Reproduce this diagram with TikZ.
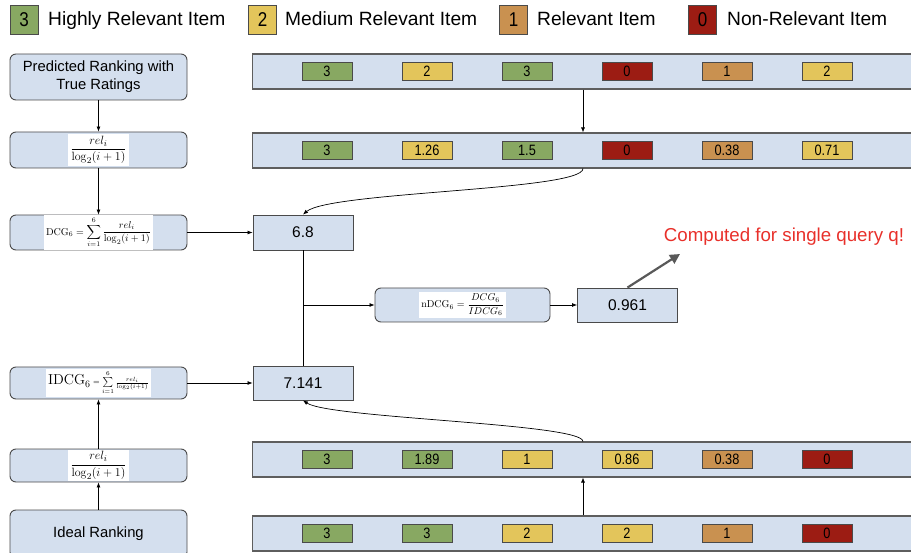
\documentclass[tikz,border=0pt]{standalone}
\usepackage[no-math]{fontspec}
\setmainfont{Liberation Sans}
\newfontfamily\narrowfont[FakeStretch=0.85]{Liberation Sans}
\usetikzlibrary{arrows.meta,calc}

\definecolor{boxblue}{HTML}{D4DFEE}
\definecolor{edge}{HTML}{4A4A4A}
\definecolor{baredge}{HTML}{5E5E5E}
\definecolor{cgreen}{HTML}{88A862}
\definecolor{cyellow}{HTML}{E3C55B}
\definecolor{corange}{HTML}{C99150}
\definecolor{cred}{HTML}{9C1C13}
\definecolor{notered}{HTML}{E8302A}
\definecolor{pointer}{HTML}{595959}

\newcommand\cellfnt{\narrowfont\fontsize{15}{15}\selectfont}
\newcommand\legfnt{\fontsize{19.2}{22}\selectfont}
\newcommand\stagefnt{\fontsize{14.8}{18}\selectfont}
\setlength{\fboxsep}{2pt}

\tikzset{
  stage/.style={draw=edge, fill=boxblue, rounded corners=6pt, line width=0.9pt,
    minimum width=177pt, inner sep=0pt, align=center, font=\stagefnt},
  bar/.style={draw=baredge, fill=boxblue, line width=1.1pt, minimum width=700pt,
    minimum height=35pt, anchor=west},
  valbox/.style={draw=edge, fill=boxblue, line width=0.9pt, minimum width=100pt,
    minimum height=34pt, font=\fontsize{15.5}{18}\selectfont},
  cell/.style={draw=edge, line width=0.8pt, minimum width=50pt, minimum height=18pt,
    inner sep=0pt, font=\cellfnt},
  legbox/.style={draw=edge, line width=0.8pt, minimum width=28pt, minimum height=29pt,
    inner sep=0pt, font=\narrowfont\fontsize{20}{20}\selectfont},
  legtext/.style={anchor=base west, inner sep=0pt, font=\legfnt},
  flow/.style={-{Latex[length=5pt,width=4pt]}, line width=0.7pt, black},
  link/.style={line width=0.7pt, black},
}

\begin{document}
\begin{tikzpicture}[x=1pt,y=-1pt]
\useasboundingbox (0,0) rectangle (911,553);
\clip (0,0) rectangle (911,553);

% legend
\node[legbox, fill=cgreen]  (lg3) at (24,19.5)  {3};
\node[legtext] (lt3) at (48,26)  {Highly Relevant Item};
\node[legbox, fill=cyellow] (lg2) at (262.5,19.5) {2};
\node[legtext] (lt2) at (285,26) {Medium Relevant Item};
\node[legbox, fill=corange] (lg1) at (513.5,19.5) {1};
\node[legtext] (lt1) at (537,26) {Relevant Item};
\node[legbox, fill=cred]    (lg0) at (702.5,19.5) {0};
\node[legtext] (lt0) at (727,26) {Non-Relevant Item};

% left column: steps of the computation
\node[stage, minimum height=46pt] (pred) at (98.5,77) {Predicted Ranking with\\True Ratings};
\node[stage, minimum height=36pt] (gain1) at (98.5,150)
  {\colorbox{white}{\fontsize{13}{15}\selectfont$\displaystyle\frac{rel_i}{\log_2(i+1)}$}};
\node[stage, minimum height=35pt] (dcg) at (98.5,232.5)
  {\colorbox{white}{\fontsize{10}{12}\selectfont$\displaystyle\mathrm{DCG}_6=\sum_{i=1}^{6}\frac{rel_i}{\log_2(i+1)}$}};
\node[stage, minimum height=32pt] (idcg) at (98.5,383)
  {\colorbox{white}{{\fontsize{14.5}{16}\selectfont$\mathrm{IDCG}_6$}\,{\fontsize{8.5}{10}\selectfont$=\sum\limits_{i=1}^{6}\frac{rel_i}{\log_2(i+1)}$}}};
\node[stage, minimum height=33pt] (gain2) at (98.5,465.5)
  {\colorbox{white}{\fontsize{13}{15}\selectfont$\displaystyle\frac{rel_i}{\log_2(i+1)}$}};
\node[stage, minimum height=48pt] (ideal) at (98.5,534) {Ideal Ranking};

% rows of items
\node[bar] (row1) at (252,71.5) {};
\foreach \v/\c [count=\k from 0] in {3/cgreen,2/cyellow,3/cgreen,0/cred,1/corange,2/cyellow}
  \node[cell, fill=\c] (r1c\k) at (327+100*\k,71.5) {\v};
\node[bar] (row2) at (252,150.5) {};
\foreach \v/\c [count=\k from 0] in {3/cgreen,1.26/cyellow,1.5/cgreen,0/cred,0.38/corange,0.71/cyellow}
  \node[cell, fill=\c] (r2c\k) at (327+100*\k,150.5) {\v};
\node[bar] (row3) at (252,459.5) {};
\foreach \v/\c [count=\k from 0] in {3/cgreen,1.89/cgreen,1/cyellow,0.86/cyellow,0.38/corange,0/cred}
  \node[cell, fill=\c] (r3c\k) at (327+100*\k,459.5) {\v};
\node[bar] (row4) at (252,533.5) {};
\foreach \v/\c [count=\k from 0] in {3/cgreen,3/cgreen,2/cyellow,2/cyellow,1/corange,0/cred}
  \node[cell, fill=\c] (r4c\k) at (327+100*\k,533.5) {\v};

% results
\node[valbox, minimum height=35pt] (dcgval) at (303,232.5) {6.8};
\node[valbox] (idcgval) at (303,383) {7.141};
\node[stage, minimum width=175pt, minimum height=34pt] (ndcg) at (462.5,305)
  {\colorbox{white}{\fontsize{9.8}{12}\selectfont$\displaystyle\mathrm{nDCG}_6=\frac{DCG_6}{IDCG_6}$}};
\node[valbox] (ndcgval) at (627.5,305) {0.961};
\node[anchor=base, inner sep=0pt, text=notered, font=\fontsize{18.7}{22}\selectfont]
  (note) at (784,242) {Computed for single query q!};

% connectors
\coordinate (col) at (583,0);
\coordinate (tip) at (680,254);
\draw[flow] (pred) -- (gain1);
\draw[flow] (gain1) -- (dcg);
\draw[flow] (dcg) -- (dcgval);
\draw[flow] (row1.south -| col) -- (row2.north -| col);
\draw[flow] (row2.south -| col) .. controls +(0,22) and +(27,-23) .. (dcgval.north);
\draw[link] (dcgval.south) -- (idcgval.north);
\draw[flow] (dcgval.south |- ndcg.west) -- (ndcg.west);
\draw[flow] (ndcg) -- (ndcgval);
\draw[-{Triangle[length=10pt,width=10pt]}, line width=2.2pt, pointer] (ndcgval.north) -- (tip);
\draw[flow] (idcg) -- (idcgval);
\draw[flow] (row3.north -| col) .. controls +(0,-18) and +(27,18) .. (idcgval.south);
\draw[flow] (row4.north -| col) -- (row3.south -| col);
\draw[flow] (ideal) -- (gain2);
\draw[flow] (gain2) -- (idcg);
\end{tikzpicture}
\end{document}
